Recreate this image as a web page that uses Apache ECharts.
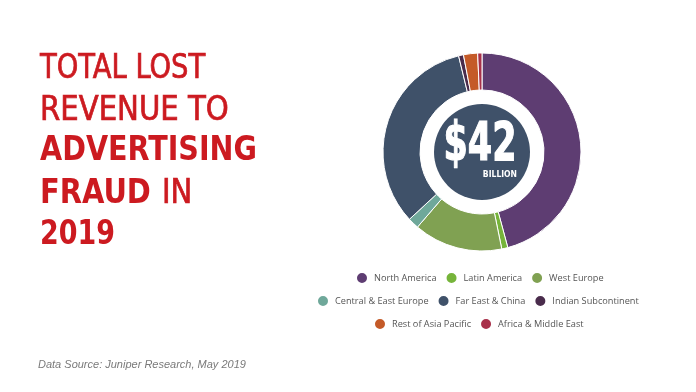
<!DOCTYPE html>
<html>
<head>
<meta charset="utf-8">
<script src="https://cdn.jsdelivr.net/npm/echarts@6/dist/echarts.min.js"></script>
<style>
html,body{margin:0;padding:0;background:#fff;}
#c{width:696px;height:392px;}
</style>
</head>
<body>
<div id="c"></div>
<script>
// Data (share of $42B total, %)
const regions = ['North America','Latin America','West Europe','Central & East Europe','Far East & China','Indian Subcontinent','Rest of Asia Pacific','Africa & Middle East'];
const shares = [45.8, 1.0, 14.5, 1.8, 33.1, 0.8, 2.3, 0.7];
const colors = ['#5e3d72','#76b43a','#80a152','#6fa89a','#3f5169','#4a2c4c','#c45a28','#a8304a'];
const legendRows = [
  ['North America','Latin America','West Europe'],
  ['Central & East Europe','Far East & China','Indian Subcontinent'],
  ['Rest of Asia Pacific','Africa & Middle East']
];
const totalLabel = '$42';
const unitLabel = 'BILLION';
const sourceText = 'Data Source: Juniper Research, May 2019';

const chart = echarts.init(document.getElementById('c'), null, {renderer:'canvas'});
const red = '#cc1a20';
const tFont = '"Liberation Sans Narrow","DejaVu Sans Condensed","Liberation Sans",sans-serif';

const legendLefts = [355, 316, 373];
const legendTops = [271, 294, 317];

function tline(text, x, y, sx, bold){
  return {type:'text', x:x, y:y, scaleX:sx, z:100,
    style:{text:text, fill:red, font:(bold?'bold ':'normal ')+'34px '+tFont, verticalAlign:'middle',
      stroke: bold ? null : red, lineWidth: bold ? 0 : 0.7}};
}

const option = {
  animation:false,
  color: colors,
  legend: legendRows.map((row,i)=>({
    data: row, orient:'horizontal', left: legendLefts[i], top: legendTops[i],
    padding:0, itemGap:8, itemWidth:12, itemHeight:12, icon:'circle',
    selectedMode:false,
    textStyle:{fontFamily:'"Open Sans",sans-serif', fontSize:9.2, color:'#555', padding:[0,0,0,1]}
  })),
  series:[
    {
      type:'pie', radius:[62,99], center:[482,152], startAngle:90, clockwise:true,
      label:{show:false}, labelLine:{show:false}, silent:true,
      itemStyle:{borderColor:'#fff', borderWidth:1},
      data: regions.map((n,i)=>({name:n, value:shares[i]}))
    },
    {
      type:'pie', radius:[0,48], center:[482,152], silent:true,
      label:{show:false}, labelLine:{show:false},
      itemStyle:{color:'#3f5169'},
      data:[{name:'center', value:1}]
    }
  ],
  graphic:[
    tline('TOTAL LOST', 40, 69, 0.896, false),
    tline('REVENUE TO', 40, 111, 0.954, false),
    tline('ADVERTISING', 40, 151, 0.935, true),
    tline('FRAUD', 40, 194, 0.945, true),
    tline('IN', 162, 194, 0.95, false),
    tline('2019', 40, 235.5, 0.88, true),
    {type:'text', x:480, y:146, scaleX:0.72, z:100, style:{text:totalLabel, fill:'#fff', stroke:'#fff', lineWidth:1.2, font:'bold 54px '+tFont, align:'center', verticalAlign:'middle'}},
    {type:'text', x:517, y:175, z:100, style:{text:unitLabel, fill:'#fff', font:'bold 8.5px '+tFont, align:'right', verticalAlign:'middle'}},
    {type:'text', x:38, y:365, z:100, style:{text:sourceText, fill:'#7a7a7a', font:'italic 11px "Liberation Sans",Arial,sans-serif', verticalAlign:'middle'}}
  ]
};
chart.setOption(option);
</script>
</body>
</html>
